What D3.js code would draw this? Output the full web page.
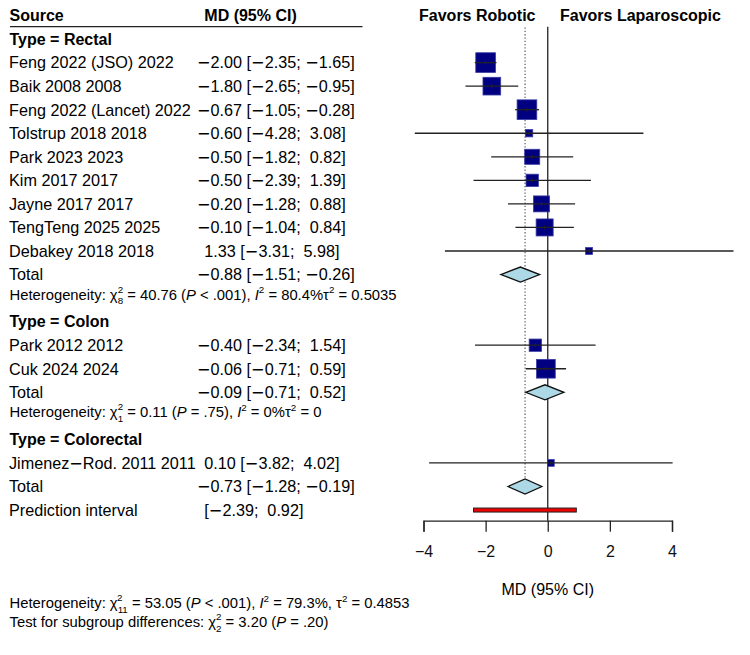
<!DOCTYPE html>
<html>
<head>
<meta charset="utf-8">
<script src="https://cdn.jsdelivr.net/npm/d3@7"></script>
<style>
  body { margin: 0; background: #fff; }
  svg text { font-family: "Liberation Sans", Arial, Helvetica, sans-serif; white-space: pre; }
</style>
</head>
<body>
<div id="chart"></div>
<script>

//*************************0. Data

const studyNames = ["Feng 2022 (JSO) 2022","Baik 2008 2008","Feng 2022 (Lancet) 2022","Tolstrup 2018 2018","Park 2023 2023","Kim 2017 2017","Jayne 2017 2017","TengTeng 2025 2025","Debakey 2018 2018","Park 2012 2012","Cuk 2024 2024","Jimenez\u2212Rod. 2011 2011"]
const studyGroups = ["Rectal","Rectal","Rectal","Rectal","Rectal","Rectal","Rectal","Rectal","Rectal","Colon","Colon","Colorectal"]
const studyMD = [-2.00,-1.80,-0.67,-0.60,-0.50,-0.50,-0.20,-0.10,1.33,-0.40,-0.06,0.10]
const studyLower = [-2.35,-2.65,-1.05,-4.28,-1.82,-2.39,-1.28,-1.04,-3.31,-2.34,-0.71,-3.82]
const studyUpper = [-1.65,-0.95,-0.28,3.08,0.82,1.39,0.88,0.84,5.98,1.54,0.59,4.02]
// weights (%)
const studyWeight = [14.6,11.8,14.6,2.0,8.5,5.7,9.6,10.9,1.8,5.7,13.2,1.7]

const groupNames = ["Rectal","Colon","Colorectal"]
const groupMD = [-0.88,-0.09,null]
const groupLower = [-1.51,-0.71,null]
const groupUpper = [-0.26,0.52,null]
const groupChi2 = ["40.76","0.11",null]
const groupDf = ["8","1",null]
const groupP = ["< .001","= .75",null]
const groupI2 = ["80.4%","0%",null]
const groupTau2 = ["0.5035","0",null]

const overallMD = -0.73
const overallLower = -1.28
const overallUpper = -0.19
const predLower = -2.39
const predUpper = 0.92
const overallHet = {chi2: "53.05", df: "11", p: "< .001", i2: "79.3%", tau2: "0.4853"}
const subgroupTest = {chi2: "3.20", df: "2", p: "= .20"}

const xTicks = [-4,-2,0,2,4]
const favorLabels = ["Favors Robotic","Favors Laparoscopic"]

async function draw() {

//*************************1. Dimensions

    const dimensions = {
        width: 750,
        height: 655,
        rowTop: 15.5,
        rowStep: 23.55,
        colSource: 9,
        colEffect: 204.3,
        minusShift: 7.3,
        axisY: 520.7,
        fontMain: 16.2,
        fontHet: 14.8
    }

//*************************2. Wrapper

    const wrapper = d3.select("#chart")
        .append("svg")
        .attr("width", dimensions.width)
        .attr("height", dimensions.height)

    const bounds = wrapper.append("g")

//*************************3. Build rows

    const rows = []
    rows.push({type: "header"})
    groupNames.forEach((g, gi) => {
        rows.push({type: "group", label: "Type = " + g})
        studyNames.forEach((name, i) => {
            if (studyGroups[i] === g) rows.push({type: "study", label: name, md: studyMD[i], lo: studyLower[i], hi: studyUpper[i], w: studyWeight[i]})
        })
        if (groupMD[gi] !== null) {
            rows.push({type: "total", label: "Total", md: groupMD[gi], lo: groupLower[gi], hi: groupUpper[gi]})
            rows.push({type: "het", chi2: groupChi2[gi], df: groupDf[gi], p: groupP[gi], i2: groupI2[gi], tau2: groupTau2[gi], sep: ""})
        }
    })
    rows.push({type: "total", label: "Total", md: overallMD, lo: overallLower, hi: overallUpper, overall: true})
    rows.push({type: "pred", label: "Prediction interval", lo: predLower, hi: predUpper})
    rows.forEach((r, i) => r.i = i)

//*************************4. Scales

    const xScale = d3.scaleLinear()
        .domain([-4, 4])
        .range([423.5, 672])

    const yScale = d3.scaleLinear()
        .domain([0, 1])
        .range([dimensions.rowTop, dimensions.rowTop + dimensions.rowStep])

    const sizeScale = d3.scaleSqrt()
        .domain([0, d3.max(studyWeight)])
        .range([0, 19.7])

//-----------------------text helpers
    const fmt = v => (v < 0 ? "\u2212" : "") + Math.abs(v).toFixed(2)
    const ciText = (lo, hi) => `[${fmt(lo)};${hi < 0 ? " " : "  "}${fmt(hi)}]`
    const effectX = s => dimensions.colEffect - (s.startsWith("\u2212") ? dimensions.minusShift : 0)

    // the table minus sign is the wide one, so it gets its own font
    function fillText(sel, s) {
        s.split("\u2212").forEach((part, k) => {
            if (k > 0) sel.append("tspan").style("font-family", "\"DejaVu Sans\", sans-serif").text("\u2212")
            if (part) sel.append("tspan").text(part)
        })
    }

//*************************5. Left table

    // header
    bounds.append("text")
        .attr("x", dimensions.colSource + 0.5)
        .attr("y", yScale(0) + 5.8)
        .attr("font-size", 16)
        .attr("font-weight", "bold")
        .text("Source")

    bounds.append("text")
        .attr("x", dimensions.colEffect)
        .attr("y", yScale(0) + 5.8)
        .attr("font-size", 16)
        .attr("font-weight", "bold")
        .text("MD (95% CI)")

    bounds.append("line")
        .attr("x1", 10).attr("x2", 362.5)
        .attr("y1", 26.7).attr("y2", 26.7)
        .attr("stroke", "#222")
        .attr("stroke-width", 1.3)

    const labelRows = rows.filter(r => r.label)

    bounds.selectAll(".row-label")
        .data(labelRows)
        .join("text")
        .attr("class", "row-label")
        .attr("x", d => d.type === "group" ? dimensions.colSource + 0.5 : dimensions.colSource)
        .attr("y", d => yScale(d.i) + 5.8)
        .attr("font-size", d => d.type === "group" ? 16 : dimensions.fontMain)
        .attr("font-weight", d => d.type === "group" ? "bold" : "normal")
        .each(function(d) { fillText(d3.select(this), d.label) })

    const effectRows = rows.filter(r => r.type === "study" || r.type === "total" || r.type === "pred")

    bounds.selectAll(".row-effect")
        .data(effectRows)
        .join("text")
        .attr("class", "row-effect")
        .each(function(d) {
            const s = d.type === "pred" ? ciText(d.lo, d.hi) : fmt(d.md) + " " + ciText(d.lo, d.hi)
            const t = d3.select(this)
                .attr("x", effectX(s))
                .attr("y", yScale(d.i) + 5.8)
                .attr("font-size", dimensions.fontMain)
            fillText(t, s)
        })

//-----------------------heterogeneity texts
    const scriptSize = 9.8
    const digitW = scriptSize * 0.556

    function chiStack(t, df) {
        const subW = df.length * digitW
        t.append("tspan").attr("font-size", scriptSize).attr("dy", 4.5).text(df)
        t.append("tspan").attr("font-size", scriptSize).attr("dx", -subW).attr("dy", -11.5).text("2")
        return subW - digitW
    }

    function hetText(x, y, h, prefix) {
        const t = bounds.append("text")
            .attr("x", x)
            .attr("y", y)
            .attr("font-size", dimensions.fontHet)
        t.append("tspan").text(prefix + "\u03c7")
        const extra = chiStack(t, h.df)
        t.append("tspan").attr("dy", 7).attr("dx", extra).text(` = ${h.chi2} (`)
        t.append("tspan").attr("font-style", "italic").text("P")
        t.append("tspan").text(` ${h.p})`)
        if (h.i2 !== undefined) {
            t.append("tspan").text(", ")
            t.append("tspan").attr("font-style", "italic").text("I")
            t.append("tspan").attr("font-size", scriptSize).attr("dy", -6.5).text("2")
            t.append("tspan").attr("dy", 6.5).text(` = ${h.i2}${h.sep}\u03c4`)
            t.append("tspan").attr("font-size", scriptSize).attr("dy", -6.5).text("2")
            t.append("tspan").attr("dy", 6.5).text(` = ${h.tau2}`)
        }
    }

    rows.filter(r => r.type === "het").forEach(r => hetText(dimensions.colSource + 0.5, yScale(r.i) + 1.5, r, "Heterogeneity: "))

    hetText(dimensions.colSource + 0.5, 608, Object.assign({sep: ", "}, overallHet), "Heterogeneity: ")
    hetText(dimensions.colSource + 0.5, 627, subgroupTest, "Test for subgroup differences: ")

//*************************6. Reference lines

    bounds.append("line")
        .attr("x1", xScale(0)).attr("x2", xScale(0))
        .attr("y1", 26.7).attr("y2", dimensions.axisY)
        .attr("stroke", "#222")
        .attr("stroke-width", 1.3)

    const overallRow = rows.find(r => r.overall)
    bounds.append("line")
        .attr("x1", xScale(overallMD)).attr("x2", xScale(overallMD))
        .attr("y1", 27.5).attr("y2", yScale(overallRow.i) - 7.5)
        .attr("stroke", "#666")
        .attr("stroke-width", 1.3)
        .attr("stroke-dasharray", "1.3,2")

//*************************7. Study squares and CIs

    const studyRows = rows.filter(r => r.type === "study")

    bounds.selectAll(".square")
        .data(studyRows)
        .join("rect")
        .attr("class", "square")
        .attr("x", d => xScale(d.md) - sizeScale(d.w) / 2)
        .attr("y", d => yScale(d.i) - sizeScale(d.w) / 2)
        .attr("width", d => sizeScale(d.w))
        .attr("height", d => sizeScale(d.w))
        .attr("fill", "#000080")
        .attr("stroke", "#3a3aa6")
        .attr("stroke-width", 0.8)

    bounds.selectAll(".ci")
        .data(studyRows)
        .join("line")
        .attr("class", "ci")
        .attr("x1", d => xScale(d.lo))
        .attr("x2", d => xScale(d.hi))
        .attr("y1", d => yScale(d.i))
        .attr("y2", d => yScale(d.i))
        .attr("stroke", "#222")
        .attr("stroke-width", 1.3)

    bounds.selectAll(".tick-mark")
        .data(studyRows)
        .join("line")
        .attr("class", "tick-mark")
        .attr("x1", d => xScale(d.md))
        .attr("x2", d => xScale(d.md))
        .attr("y1", d => yScale(d.i) - 2)
        .attr("y2", d => yScale(d.i) + 2)
        .attr("stroke", "#222")
        .attr("stroke-width", 1)

//*************************8. Diamonds and prediction interval

    const totalRows = rows.filter(r => r.type === "total")
    bounds.selectAll(".diamond")
        .data(totalRows)
        .join("path")
        .attr("class", "diamond")
        .attr("d", d => {
            const y = yScale(d.i), h = 7.5
            return `M${xScale(d.lo)},${y}L${xScale(d.md)},${y - h}L${xScale(d.hi)},${y}L${xScale(d.md)},${y + h}Z`
        })
        .attr("fill", "#add8e6")
        .attr("stroke", "#111")
        .attr("stroke-width", 1.3)

    const predRow = rows.find(r => r.type === "pred")
    bounds.append("rect")
        .attr("x", xScale(predRow.lo))
        .attr("y", yScale(predRow.i) - 2)
        .attr("width", xScale(predRow.hi) - xScale(predRow.lo))
        .attr("height", 4)
        .attr("fill", "#ee0000")
        .attr("stroke", "#222")
        .attr("stroke-width", 1)

//*************************9. Axis

    const xAxisGenerator = d3.axisBottom()
        .scale(xScale)
        .tickValues(xTicks)
        .tickSize(11)
        .tickSizeOuter(11)
        .tickPadding(13.5)

    const xAxis = bounds.append("g")
        .attr("transform", `translate(0,${dimensions.axisY})`)
        .call(xAxisGenerator)

    xAxis.selectAll("path, line")
        .attr("stroke", "#222")
        .attr("stroke-width", 1.3)
    xAxis.selectAll("text")
        .attr("font-size", 16)
        .attr("fill", "#111")
        .style("font-family", "\"Liberation Sans\", Arial, sans-serif")

    bounds.append("text")
        .attr("x", xScale(0))
        .attr("y", 595)
        .attr("text-anchor", "middle")
        .attr("font-size", 16)
        .text("MD (95% CI)")

//-----------------------favours labels
    bounds.append("text")
        .attr("x", 535.5)
        .attr("y", yScale(0) + 5.8)
        .attr("text-anchor", "end")
        .attr("font-size", 16)
        .attr("font-weight", "bold")
        .text(favorLabels[0])

    bounds.append("text")
        .attr("x", 560)
        .attr("y", yScale(0) + 5.8)
        .attr("font-size", 16)
        .attr("font-weight", "bold")
        .text(favorLabels[1])

} draw()
</script>
</body>
</html>
